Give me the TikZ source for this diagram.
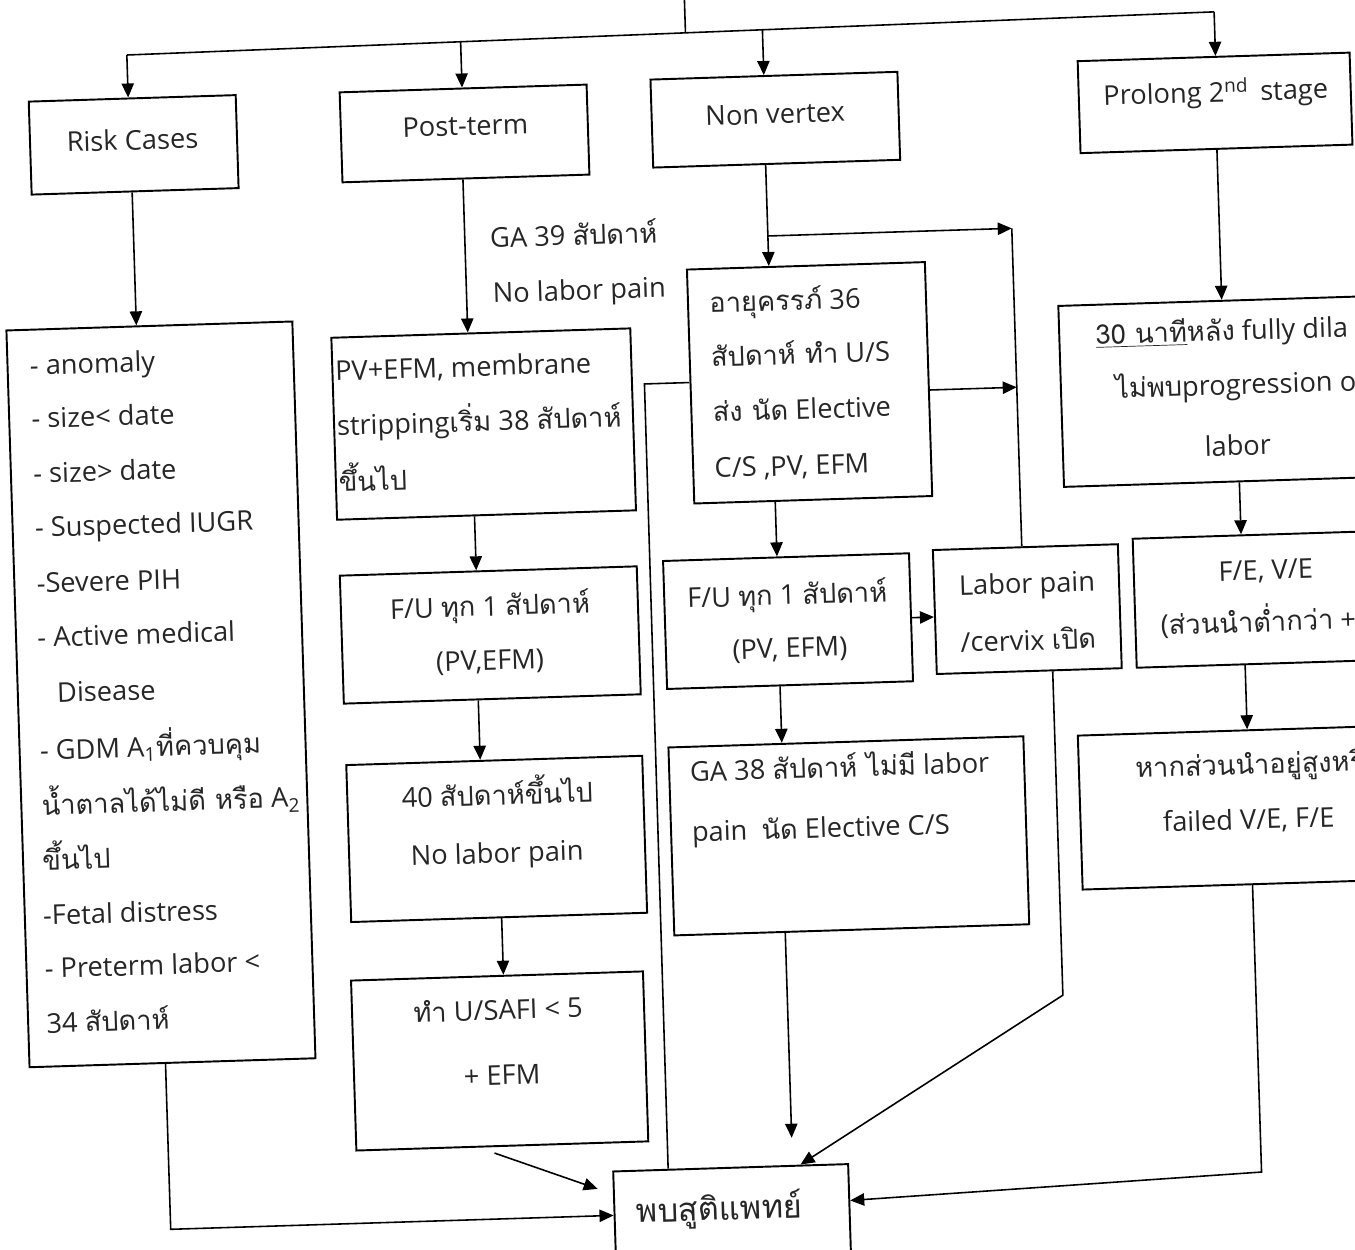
\documentclass[tikz,border=0pt]{standalone}
\usepackage{fontspec}
\setmainfont{Open Sans}
\newfontfamily\thaifont[Script=Thai,Scale=1.0]{Loma}
\newcommand\thai[1]{{\thaifont #1}}
\usetikzlibrary{arrows.meta,calc}
\tikzset{
  boxnode/.style={draw, line width=1.1pt, inner sep=0pt, rectangle},
  ln/.style={line width=0.9pt},
  arr/.style={line width=0.9pt, -{Triangle[length=8pt,width=7pt]}},
  tx/.style={inner sep=0pt, anchor=base},
  tl/.style={inner sep=0pt, anchor=base west}
}
\newcommand\mybox[5]{\node[boxnode, minimum width=#4*0.02cm, minimum height=#5*0.02cm] (#1) at (#2,#3) {};}
\begin{document}
\begin{tikzpicture}[x=0.02cm,y=-0.02cm, every node/.style={font=\fontsize{15.5pt}{18pt}\selectfont, text=black!85}]
\useasboundingbox (0.3859cm,0.4315cm) rectangle (27.4859cm,-24.5685cm);
\clip (0.3859cm,0.4315cm) rectangle (27.4859cm,-24.5685cm);
\fill[white] (0.3859cm,0.4315cm) rectangle (27.4859cm,-24.5685cm);
\begin{scope}[rotate=1.8, transform shape]
% boxes
\mybox{risk}{149}{128}{207}{93}
\mybox{post}{480}{127}{247}{90}
\mybox{nv}{791}{123}{247}{88}
\mybox{prol}{1231}{120}{272}{92}
\mybox{list}{159}{678}{286}{737}
\mybox{pv}{490}{418}{299}{182}
\mybox{age}{817}{387}{238}{234}
\mybox{mthirty}{1244}{408.5}{352}{181}
\mybox{fua}{490}{629}{297}{128}
\mybox{fub}{788}{624.5}{246}{128}
\mybox{lab}{1027.5}{620}{185}{124}
\mybox{fe}{1277.5}{617.5}{285}{129}
\mybox{bforty}{490}{833}{296}{157}
\mybox{ga}{842}{841}{355}{188}
\mybox{hak}{1247}{825}{346}{154}
\mybox{us}{486}{1055}{292}{170}
\mybox{pb}{713.5}{1215.5}{235}{93}
% texts
\node[tx] (t-risk) at (148,133) {Risk Cases};
\node[tx] (t-post) at (481,129) {Post-term};
\node[tx] (t-nv) at (791,127) {Non vertex};
\node[tx] (t-prol) at (1232,119) {Prolong 2\textsuperscript{nd}\, stage};
\node[tl] (l1) at (38,355) {- anomaly};
\node[tl] (l2) at (38,408) {- size< date};
\node[tl] (l3) at (38,463) {- size> date};
\node[tl] (l4) at (38,517) {- Suspected IUGR};
\node[tl] (l5) at (38,573) {-Severe PIH};
\node[tl] (l6) at (37,627) {- Active medical};
\node[tl] (l7) at (55,683) {Disease};
\node[tl] (l8) at (36,740) {- GDM A\textsubscript{1}\thai{ที่ควบคุม}};
\node[tl] (l9) at (36,795) {\thai{น้ำตาลได้ไม่ดี หรือ} A\textsubscript{2}};
\node[tl] (l10) at (35,850) {\thai{ขึ้นไป}};
\node[tl] (l11) at (34,905) {-Fetal distress};
\node[tl] (l12) at (34,958) {- Preterm labor <};
\node[tl] (l13) at (34,1013) {34 \thai{สัปดาห์}};
\node[tl] (g39) at (502,242) {GA 39 \thai{สัปดาห์}};
\node[tl] (nlp) at (503,297) {No labor pain};
\node[tl] (pv1) at (343,370) {PV+EFM, membrane};
\node[tl] (pv2) at (343,425) {stripping\thai{เริ่ม} 38 \thai{สัปดาห์}};
\node[tl] (pv3) at (343,481) {\thai{ขึ้นไป}};
\node[tx] (fua1) at (490.6,610) {F/U \thai{ทุก} 1 \thai{สัปดาห์}};
\node[tx] (fua2) at (489,664) {(PV,EFM)};
\node[tx] (b401) at (492,799) {40 \thai{สัปดาห์ขึ้นไป}};
\node[tx] (b402) at (490,857) {No labor pain};
\node[tx] (us1) at (486,1014) {\thai{ทำ} U/SAFI < 5};
\node[tx] (us2) at (488,1079) {+ EFM};
\node[tl] (age1) at (719,314) {\thai{อายุครรภ์} 36};
\node[tl] (age2) at (719,368) {\thai{สัปดาห์ ทำ} U/S};
\node[tl] (age3) at (719,423) {\thai{ส่ง นัด} Elective};
\node[tl] (age4) at (719,479) {C/S ,PV, EFM};
\node[tx] (fub1) at (788,608) {F/U \thai{ทุก} 1 \thai{สัปดาห์}};
\node[tx] (fub2) at (789,661) {(PV, EFM)};
\node[tx] (lab1) at (1028,604) {Labor pain};
\node[tx] (lab2) at (1027.5,661) {/cervix \thai{เปิด}};
\node[tl] (ga1) at (685,782) {GA 38 \thai{สัปดาห์ ไม่มี} labor};
\node[tl] (ga2) at (685,842) {pain\ \ \thai{นัด} Elective C/S};
\node[tl] (m1) at (1104,358) {\underline{\thai{30 นาที}}\thai{หลัง} fully dila};
\node[tl] (m2) at (1122,412) {\thai{ไม่พบ}progression o};
\node[tx] (m3) at (1243,473) {labor};
\node[tx] (fe1) at (1267,598) {F/E, V/E};
\node[tl] (fe2) at (1160,650) {(\thai{ส่วนนำต่ำกว่า} +};
\node[tl] (hak1) at (1130,792) {\thai{หากส่วนนำอยู่สูงหรื}};
\node[tl] (hak2) at (1156,847) {failed V/E, F/E};
\node[tx, font=\fontsize{18.5pt}{22pt}\selectfont] (t-pb) at (701,1221) {\thai{พบสูติแพทย์}};
% connectors
\coordinate (topin) at (704,-40);
\coordinate (hj) at (704,33.4);
\coordinate (hL) at (145,38);
\coordinate (hR) at (1233,29);
\coordinate (hP) at (479,35.2);
\coordinate (hN) at (781,32.7);
\draw[ln] (topin) -- (hj);
\draw[ln] (hL) -- (hR);
\draw[arr] (hL) -- ($(risk.north)+(-4,0)$);
\draw[arr] (hP) -- ($(post.north)+(-1,0)$);
\draw[arr] (hN) -- ($(nv.north)+(-10,0)$);
\draw[arr] (hR) -- ($(prol.north)+(2,0)$);
\draw[arr] ($(risk.south)+(-3,0)$) -- ($(list.north)+(-13,0)$);
\draw[arr] ($(post.south)+(-3,0)$) -- ($(pv.north)+(-13,0)$);
\draw[arr] ($(pv.south)+(-12,0)$) -- ($(fua.north)+(-12,0)$);
\draw[arr] ($(fua.south)+(-14,0)$) -- ($(bforty.north)+(-14,0)$);
\draw[arr] ($(bforty.south)+(2.5,0)$) -- ($(us.north)+(6.5,0)$);
\draw[arr] ($(us.south)+(-8,6)$) -- ($(pb.north west)+(-15,18)$);
\coordinate (lc) at (152,1213);
\draw[arr] ($(list.south)+(-7,0)$) -- (lc) -- ($(pb.west)+(0,-2.5)$);
\draw[arr] ($(nv.south)+(-11,0)$) -- ($(age.north)+(-37,0)$);
\coordinate (br) at (780,239);
\coordinate (vt) at (1024,239);
\draw[arr] (br) -- (vt);
\draw[ln] (vt) -- ($(lab.north)+(-3.5,0)$);
\coordinate (vm) at (1024,398);
\draw[arr] ($(age.east)+(0,11)$) -- (vm);
\coordinate (al) at (652,383);
\draw[ln] ($(age.west)+(0,-4)$) -- (al) -- ($(pb.north west)+(56,0)$);
\draw[arr] ($(age.south)+(-38,0)$) -- ($(fub.north)+(-9,0)$);
\draw[arr] ($(fub.east)+(0,0.5)$) -- ($(lab.west)+(0,5)$);
\draw[arr] ($(fub.south)+(-10,0)$) -- ($(ga.north)+(-64,0)$);
\draw[arr] ($(ga.south)+(-66.5,0)$) -- ($(pb.north)+(62,-27)$);
\coordinate (lb) at (1051,1007);
\draw[arr] ($(lab.south)+(23.5,0)$) -- (lb) -- ($(pb.north)+(70,0)$);
\draw[arr] ($(prol.south)+(0.5,0)$) -- ($(mthirty.north)+(-12.5,0)$);
\draw[arr] ($(mthirty.south)+(-0.5,0)$) -- ($(fe.north)+(-34,0)$);
\draw[arr] ($(fe.south)+(-34,0)$) -- ($(hak.north)+(-3.5,0)$);
\coordinate (hb) at (1244,1190);
\draw[arr] ($(hak.south)+(-3,0)$) -- (hb) -- ($(pb.east)+(0,-10)$);
\end{scope}
\end{tikzpicture}
\end{document}
